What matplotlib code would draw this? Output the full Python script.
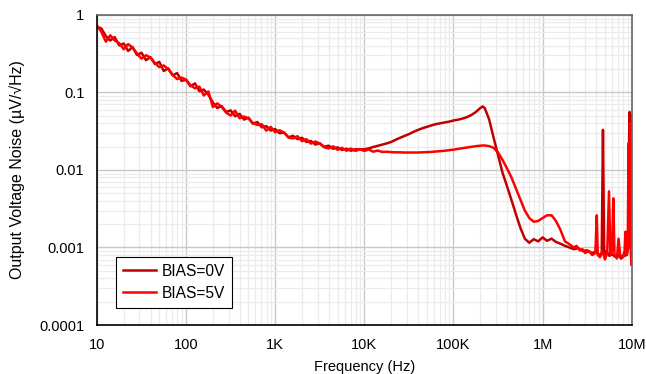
import matplotlib.pyplot as plt
from matplotlib.ticker import FixedLocator, NullFormatter, LogLocator

plt.rcParams['font.family'] = ['Liberation Sans', 'DejaVu Sans']

# Shared frequency grid, 10 Hz .. 1.78 MHz (Hz)
freq_main = [
    10, 11.2, 12.6, 14.1, 15.8, 17.8, 20, 22.4, 25.1, 28.2,
    31.6, 35.5, 39.8, 44.7, 50.1, 56.2, 63.1, 70.8, 79.4, 89.1,
    100, 112, 126, 141, 158, 178, 200, 224, 251, 282,
    316, 355, 398, 447, 501, 562, 631, 708, 794, 891,
    1000, 1120, 1260, 1410, 1580, 1780, 2000, 2240, 2510, 2820,
    3160, 3550, 3980, 4470, 5010, 5620, 6310, 7080, 7940, 8910,
    10e3, 11.2e3, 12.6e3, 14.1e3, 15.8e3, 17.8e3, 20e3, 22.4e3, 25.1e3, 28.2e3,
    31.6e3, 35.5e3, 39.8e3, 44.7e3, 50.1e3, 56.2e3, 63.1e3, 70.8e3, 79.4e3, 89.1e3,
    100e3, 112e3, 126e3, 141e3, 158e3, 178e3, 200e3, 212e3, 224e3, 251e3,
    282e3, 316e3, 355e3, 398e3, 447e3, 501e3, 562e3, 631e3, 708e3, 794e3,
    891e3, 1.0e6, 1.12e6, 1.26e6, 1.41e6, 1.58e6, 1.78e6,
]

# Output noise, uV/rtHz
bias0_main = [
    0.698, 0.672, 0.534, 0.468, 0.518, 0.405, 0.428, 0.343, 0.385, 0.304,
    0.326, 0.261, 0.286, 0.233, 0.248, 0.189, 0.205, 0.166, 0.178, 0.141,
    0.146, 0.12, 0.131, 0.104, 0.109, 0.094, 0.0742, 0.063, 0.0668, 0.056,
    0.0588, 0.0493, 0.053, 0.0447, 0.0473, 0.0395, 0.0416, 0.0355, 0.0368, 0.0323,
    0.0338, 0.0298, 0.0305, 0.0264, 0.0276, 0.025, 0.026, 0.023, 0.0237, 0.0213,
    0.0221, 0.0199, 0.0206, 0.0188, 0.0196, 0.0181, 0.0188, 0.0177, 0.0185, 0.0184,
    0.0185, 0.019, 0.0198, 0.0205, 0.0212, 0.022, 0.023, 0.0245, 0.026, 0.0275,
    0.029, 0.031, 0.0328, 0.0345, 0.036, 0.0375, 0.039, 0.040, 0.041, 0.042,
    0.0435, 0.0445, 0.046, 0.048, 0.051, 0.056, 0.063, 0.066, 0.063, 0.045,
    0.026, 0.0155, 0.0092, 0.0062, 0.0041, 0.0027, 0.0018, 0.0013, 0.00115, 0.00128,
    0.0012, 0.00135, 0.00122, 0.0013, 0.00118, 0.00112, 0.00105,
]

bias5_main = [
    0.734, 0.608, 0.452, 0.546, 0.47, 0.432, 0.361, 0.421, 0.38, 0.318,
    0.273, 0.302, 0.283, 0.24, 0.212, 0.223, 0.2, 0.168, 0.149, 0.156,
    0.146, 0.124, 0.113, 0.119, 0.0915, 0.103, 0.0648, 0.0724, 0.065, 0.055,
    0.0504, 0.0583, 0.0465, 0.0489, 0.0462, 0.0405, 0.038, 0.0389, 0.0322, 0.036,
    0.0306, 0.0326, 0.0302, 0.0262, 0.0255, 0.0273, 0.0235, 0.025, 0.0219, 0.0233,
    0.0219, 0.0196, 0.019, 0.0202, 0.0182, 0.0193, 0.0177, 0.0189, 0.0176, 0.0185,
    0.0176, 0.0184, 0.0172, 0.0178, 0.0171, 0.0172, 0.017, 0.0169, 0.0169, 0.0168,
    0.0168, 0.0168, 0.0168, 0.0169, 0.017, 0.0171, 0.0173, 0.0175, 0.0177, 0.018,
    0.0183, 0.0187, 0.0191, 0.0195, 0.0199, 0.0203, 0.0206, 0.0207, 0.0207, 0.0203,
    0.0193, 0.0168, 0.0135, 0.0105, 0.008, 0.0058, 0.0042, 0.003, 0.0024, 0.00215,
    0.0022, 0.0024, 0.0026, 0.0026, 0.0022, 0.0017, 0.0012,
]

# High-frequency tails with spurs
freq0_tail = [1.78e6, 2.0e6, 2.24e6, 2.51e6, 2.82e6, 3.16e6, 3.55e6, 3.98e6, 4.3e6, 4.6e6,
              4.75e6, 4.9e6, 5.2e6, 5.6e6, 6.0e6, 6.5e6, 7.0e6, 7.6e6, 8.2e6, 8.8e6,
              9.1e6, 9.3e6, 9.45e6, 9.55e6, 9.65e6, 9.8e6, 9.95e6]
bias0_tail = [0.00105, 0.001, 0.00095, 0.00098, 0.0009, 0.00092, 0.00085, 0.00088, 0.0008, 0.00085,
              0.033, 0.0008, 0.0009, 0.00078, 0.00082, 0.00076, 0.0008, 0.00072, 0.00078, 0.0008,
              0.0011, 0.02, 0.056, 0.03, 0.052, 0.002, 0.0006]

freq5_tail = [1.78e6, 2.0e6, 2.24e6, 2.4e6, 2.6e6, 2.8e6, 3.0e6, 3.3e6, 3.6e6, 3.9e6,
              4.05e6, 4.15e6, 4.4e6, 4.7e6, 5.0e6, 5.3e6, 5.55e6, 5.75e6, 6.0e6, 6.2e6,
              6.4e6, 6.8e6, 7.1e6, 7.4e6, 7.9e6, 8.3e6, 8.5e6, 8.7e6, 9.0e6, 9.2e6,
              9.35e6, 9.6e6, 9.75e6, 9.9e6, 10e6]
bias5_tail = [0.0012, 0.0011, 0.001, 0.00105, 0.00092, 0.00095, 0.00085, 0.0009, 0.0008, 0.00085,
              0.0026, 0.0008, 0.00075, 0.0009, 0.0007, 0.00085, 0.0053, 0.0008, 0.0009, 0.0043,
              0.0008, 0.00072, 0.0013, 0.0008, 0.00075, 0.0009, 0.0016, 0.0008, 0.0009, 0.022,
              0.001, 0.04, 0.0009, 0.0006, 0.0008]

x_ticks = [10, 100, 1e3, 1e4, 1e5, 1e6, 1e7]
x_labels = ['10', '100', '1K', '10K', '100K', '1M', '10M']
y_ticks = [1e-4, 1e-3, 1e-2, 1e-1, 1]
y_labels = ['0.0001', '0.001', '0.01', '0.1', '1']

fig = plt.figure(figsize=(6.46, 3.74), dpi=100)
ax = fig.add_axes([0.150, 0.131, 0.828, 0.829])

c0 = '#C00000'
c5 = '#FF0000'
ax.plot(freq_main + freq0_tail, bias0_main + bias0_tail, color=c0, lw=1.8, label='BIAS=0V')
ax.plot(freq_main + freq5_tail, bias5_main + bias5_tail, color=c5, lw=1.8, label='BIAS=5V')

ax.set_xscale('log')
ax.set_yscale('log')
ax.set_xlim(10, 1e7)
ax.set_ylim(1e-4, 1)

ax.xaxis.set_major_locator(FixedLocator(x_ticks))
ax.set_xticklabels(x_labels)
ax.yaxis.set_major_locator(FixedLocator(y_ticks))
ax.set_yticklabels(y_labels)
ax.xaxis.set_minor_locator(LogLocator(base=10, subs=range(2, 10), numticks=20))
ax.yaxis.set_minor_locator(LogLocator(base=10, subs=range(2, 10), numticks=20))
ax.xaxis.set_minor_formatter(NullFormatter())
ax.yaxis.set_minor_formatter(NullFormatter())
ax.tick_params(which='both', length=0, labelsize=10.5, colors='#000000')
ax.tick_params(axis='x', pad=9)
ax.tick_params(axis='y', pad=9)

ax.grid(which='major', color='#c8c8c8', lw=1.0)
ax.grid(which='minor', color='#ebebeb', lw=0.9)
ax.set_axisbelow(True)

for side in ['left', 'bottom']:
    ax.spines[side].set_color('#000000')
    ax.spines[side].set_linewidth(1.2)
for side in ['top', 'right']:
    ax.spines[side].set_color('#666666')
    ax.spines[side].set_linewidth(1.2)

ax.set_xlabel('Frequency (Hz)', fontsize=10.5, labelpad=6)
ax.set_ylabel('Output Voltage Noise (µV/√Hz)', fontsize=11.5, labelpad=10)

leg = ax.legend(loc='lower left', bbox_to_anchor=(0.022, 0.03), fontsize=11.2, frameon=True,
                fancybox=False, edgecolor='#000000', framealpha=1, handlelength=2.1,
                borderpad=0.45, labelspacing=0.45, handletextpad=0.35)
leg.get_frame().set_linewidth(0.8)

fig.savefig('out.png', dpi=100)
